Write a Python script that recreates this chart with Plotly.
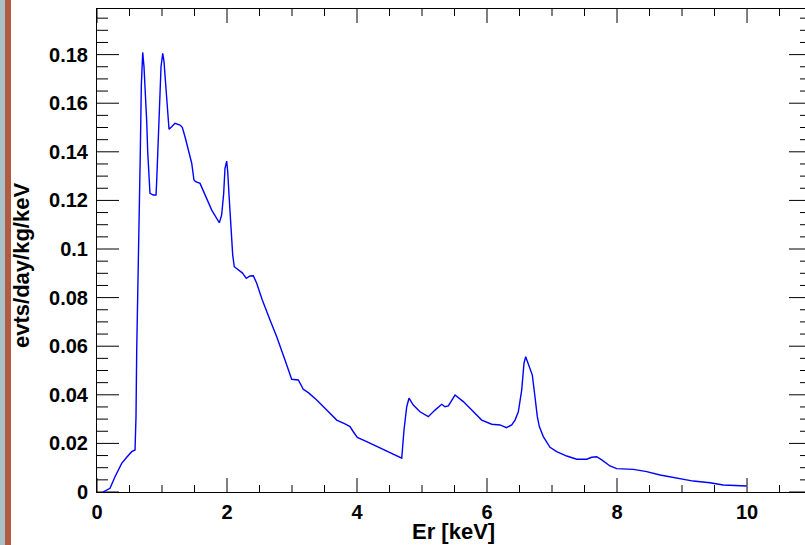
import plotly.graph_objects as go

# Recoil-energy spectrum: rate vs. recoil energy
energy_kev = [
    0.092, 0.200, 0.277, 0.380, 0.457, 0.534, 0.585, 0.600, 0.611, 0.626,
    0.646, 0.666, 0.682, 0.703, 0.723, 0.738, 0.765, 0.780, 0.800, 0.815,
    0.866, 0.908, 0.918, 0.934, 0.954, 0.969, 0.985, 1.011, 1.031, 1.046,
    1.062, 1.082, 1.108, 1.149, 1.200, 1.277, 1.312, 1.354, 1.405, 1.457,
    1.492, 1.518, 1.585, 1.662, 1.765, 1.882, 1.918, 1.949, 1.969, 1.995,
    2.011, 2.031, 2.051, 2.072, 2.088, 2.112, 2.174, 2.235, 2.297, 2.354,
    2.405, 2.457, 2.508, 2.543, 2.662, 2.765, 2.892, 2.995, 3.097, 3.174,
    3.251, 3.380, 3.534, 3.688, 3.815, 3.892, 3.943, 4.005, 4.149, 4.354,
    4.508, 4.688, 4.723, 4.765, 4.800, 4.866, 4.969, 5.097, 5.200, 5.303,
    5.354, 5.405, 5.508, 5.635, 5.765, 5.918, 6.072, 6.200, 6.300, 6.380,
    6.431, 6.482, 6.534, 6.569, 6.595, 6.635, 6.697, 6.738, 6.774, 6.805,
    6.866, 6.969, 7.072, 7.226, 7.380, 7.534, 7.611, 7.688, 7.765, 7.892,
    7.995, 8.251, 8.457, 8.662, 8.866, 9.174, 9.431, 9.635, 9.995,
]
rate = [
    0.0000, 0.0015, 0.0063, 0.0118, 0.0143, 0.0166, 0.0173, 0.0310, 0.0584, 0.0860,
    0.1129, 0.1394, 0.1672, 0.1809, 0.1750, 0.1682, 0.1524, 0.1400, 0.1291, 0.1229,
    0.1222, 0.1222, 0.1277, 0.1394, 0.1510, 0.1641, 0.1750, 0.1805, 0.1771, 0.1716,
    0.1647, 0.1586, 0.1493, 0.1503, 0.1517, 0.1510, 0.1501, 0.1462, 0.1412, 0.1353,
    0.1284, 0.1277, 0.1270, 0.1222, 0.1160, 0.1108, 0.1140, 0.1229, 0.1332, 0.1362,
    0.1318, 0.1222, 0.1140, 0.1058, 0.0975, 0.0927, 0.0916, 0.0902, 0.0879, 0.0889,
    0.0890, 0.0859, 0.0818, 0.0790, 0.0708, 0.0639, 0.0543, 0.0464, 0.0461, 0.0423,
    0.0409, 0.0379, 0.0337, 0.0296, 0.0280, 0.0269, 0.0248, 0.0225, 0.0207, 0.0180,
    0.0162, 0.0139, 0.0255, 0.0351, 0.0386, 0.0358, 0.0330, 0.0310, 0.0337, 0.0361,
    0.0351, 0.0354, 0.0399, 0.0372, 0.0337, 0.0296, 0.0279, 0.0276, 0.0265, 0.0276,
    0.0296, 0.0330, 0.0420, 0.0530, 0.0557, 0.0530, 0.0481, 0.0392, 0.0310, 0.0269,
    0.0228, 0.0184, 0.0166, 0.0148, 0.0135, 0.0135, 0.0143, 0.0145, 0.0132, 0.0107,
    0.0096, 0.0093, 0.0084, 0.0070, 0.0060, 0.0045, 0.0038, 0.0029, 0.0025,
]

x_title = "Er [keV]"
y_title = "evts/day/kg/keV"

X_RANGE = [0, 10.892]
Y_RANGE = [0, 0.19877]
X_MAJOR, X_MINOR = 2, 0.5
Y_MAJOR, Y_MINOR = 0.02, 0.005

# frame geometry in pixels (the frame's right edge sits just past the page edge)
W, H = 805, 545
ML, MR, MT, MB = 97, 0, 9, 53
PW, PH = W - ML - MR, H - MT - MB
X_PER_PX = (X_RANGE[1] - X_RANGE[0]) / PW
Y_PER_PX = (Y_RANGE[1] - Y_RANGE[0]) / PH
X_FRAME_RIGHT = X_RANGE[0] + (811 - ML) * X_PER_PX
X_TICK_LEN = (14, 7)                   # major, minor tick length [px]
Y_TICK_LEN = (22, 11)

FONT = "Liberation Sans, Arial, Helvetica, sans-serif"
tick_font = dict(family=FONT, size=20, color="black")
title_font = dict(family=FONT, size=22, color="black")


def tick_values(lo, hi, minor, major):
    """Minor-step tick values inside [lo, hi], flagged major / minor."""
    n = int(round((hi - lo) / minor + 1e-9))
    out = []
    for i in range(n + 1):
        v = round(lo + i * minor, 6)
        if v <= hi:
            out.append((v, abs(v / major - round(v / major)) < 1e-6))
    return out


# inward frame ticks, built as one broken polyline in data units
tick_x, tick_y = [], []
for v, is_major in tick_values(X_RANGE[0], X_RANGE[1], X_MINOR, X_MAJOR):
    dy = (X_TICK_LEN[0] if is_major else X_TICK_LEN[1]) * Y_PER_PX
    tick_x += [v, v, None, v, v, None]
    tick_y += [Y_RANGE[0], Y_RANGE[0] + dy, None, Y_RANGE[1], Y_RANGE[1] - dy, None]
for v, is_major in tick_values(Y_RANGE[0], Y_RANGE[1], Y_MINOR, Y_MAJOR):
    dx = (Y_TICK_LEN[0] if is_major else Y_TICK_LEN[1]) * X_PER_PX
    tick_x += [X_RANGE[0], X_RANGE[0] + dx, None, X_FRAME_RIGHT, X_FRAME_RIGHT - dx, None]
    tick_y += [v, v, None, v, v, None]

# window edge strip on the far left
edge_strip = [
    dict(type="rect", xref="paper", yref="paper",
         x0=-ML / PW, x1=-(ML - 5) / PW, y0=-MB / PH, y1=1 + MT / PH,
         fillcolor="#a9c1c9", line=dict(width=0), layer="above"),
    dict(type="rect", xref="paper", yref="paper",
         x0=-(ML - 5) / PW, x1=-(ML - 11) / PW, y0=-MB / PH, y1=1 + MT / PH,
         fillcolor="#b25b43", line=dict(width=0), layer="above"),
]

fig = go.Figure()
fig.add_trace(go.Scatter(
    x=tick_x, y=tick_y, mode="lines", connectgaps=False,
    line=dict(color="black", width=1),
    showlegend=False, hoverinfo="skip",
))
fig.add_trace(go.Scatter(
    x=energy_kev, y=rate, mode="lines",
    line=dict(color="#0000ff", width=1.4),
    showlegend=False, hoverinfo="skip",
))

fig.update_layout(
    width=W, height=H,
    margin=dict(l=ML, r=MR, t=MT, b=MB),
    paper_bgcolor="white", plot_bgcolor="white",
    xaxis=dict(
        range=X_RANGE, showgrid=False, zeroline=False,
        showline=True, linecolor="black", linewidth=1, mirror=True,
        tickmode="linear", tick0=0, dtick=X_MAJOR, ticks="",
        tickfont=tick_font, tickprefix="<b>", ticksuffix="</b>",
        ticklabelstandoff=2,
    ),
    yaxis=dict(
        range=Y_RANGE, showgrid=False, zeroline=False,
        showline=True, linecolor="black", linewidth=1, mirror=False,
        tickmode="linear", tick0=0, dtick=Y_MAJOR, ticks="",
        tickfont=tick_font, tickprefix="<b>", ticksuffix="</b>",
        ticklabelstandoff=4,
    ),
    annotations=[
        dict(text="<b>" + x_title + "</b>", xref="paper", yref="paper",
             x=(453 - ML) / PW, y=-(531 - MT - PH) / PH,
             xanchor="center", yanchor="middle", showarrow=False,
             font=title_font),
        dict(text="<b>" + y_title + "</b>", xref="paper", yref="paper",
             x=(21 - ML) / PW, y=1 - (266 - MT) / PH,
             xanchor="center", yanchor="middle", textangle=-90,
             showarrow=False, font=title_font),
    ],
    shapes=edge_strip,
)

fig.write_html("out.html")
